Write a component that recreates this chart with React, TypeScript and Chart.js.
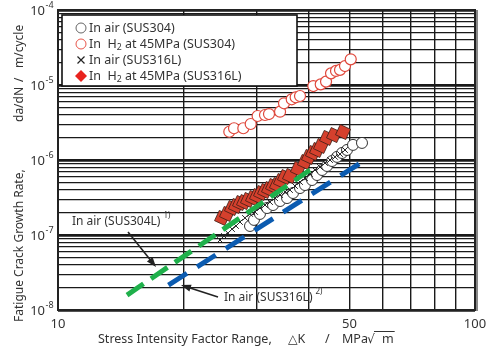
import React, { useEffect, useRef } from 'react';
import { Chart, registerables } from 'chart.js';
Chart.register(...registerables);

// ---- Axis grid / tick definitions ----
const X_GRID = [10, 20, 30, 40, 50, 60, 70, 80, 90, 100];
const X_LABELS = [10, 50, 100];
const Y_DECADES = [-8, -7, -6, -5, -4];
const Y_GRID: number[] = [];
for (let e = -8; e < -4; e++) for (let k = 1; k <= 9; k++) Y_GRID.push(k * Math.pow(10, e));
Y_GRID.push(1e-4);

// ---- Data ----
const air304X = [28.87, 29.51, 30.5, 31.71, 32.78, 34.08, 35.42, 36.61, 38.05, 39.11, 40.66, 41.8, 42.97, 44.17, 45.41, 46.68, 47.98, 49.32, 50.99, 53.58];
const air304Y = [1.32e-7, 1.59e-7, 1.91e-7, 2.29e-7, 2.51e-7, 2.84e-7, 3.11e-7, 3.63e-7, 4.23e-7, 4.64e-7, 5.41e-7, 6.31e-7, 7.36e-7, 8.32e-7, 9.7e-7, 1.1e-6, 1.24e-6, 1.36e-6, 1.59e-6, 1.69e-6];

const h2304X = [25.75, 26.43, 27.82, 28.98, 30.11, 31.36, 32.06, 34.08, 34.83, 36.35, 37.15, 38.05, 40.95, 42.66, 43.93, 45.16, 46.42, 47.46, 48.78, 50.35];
const h2304Y = [2.38e-6, 2.65e-6, 2.65e-6, 3.02e-6, 3.86e-6, 3.98e-6, 4.1e-6, 4.41e-6, 5.7e-6, 6.45e-6, 6.86e-6, 7.13e-6, 9.69e-6, 1.02e-5, 1.11e-5, 1.43e-5, 1.54e-5, 1.59e-5, 1.79e-5, 2.2e-5];

const air316X = [24.46, 25.01, 25.56, 26.14, 26.72, 27.32, 28.08, 28.87, 29.68, 30.5, 31.36, 32.24, 33.14, 34.08, 35.02, 36.0, 37.01, 38.05, 39.11, 40.21, 41.34, 42.49, 43.69, 44.91, 46.17, 47.46, 48.78];
const air316Y = [8.58e-8, 9.7e-8, 1.06e-7, 1.2e-7, 1.32e-7, 1.49e-7, 1.69e-7, 1.91e-7, 2.03e-7, 2.29e-7, 2.51e-7, 2.75e-7, 3.11e-7, 3.41e-7, 3.74e-7, 3.98e-7, 4.5e-7, 5.09e-7, 5.75e-7, 6.51e-7, 7.36e-7, 8.07e-7, 9.12e-7, 1.0e-6, 1.1e-6, 1.2e-6, 1.36e-6];

const h2316X = [24.74, 25.43, 26.14, 26.72, 27.32, 27.93, 28.55, 29.35, 30.01, 30.68, 31.36, 32.06, 32.78, 33.51, 34.25, 35.02, 36.0, 37.62, 39.11, 39.99, 40.88, 41.8, 42.73, 44.17, 45.91, 48.25];
const h2316Y = [1.69e-7, 1.91e-7, 2.29e-7, 2.44e-7, 2.67e-7, 2.75e-7, 2.93e-7, 3.11e-7, 3.31e-7, 3.63e-7, 3.86e-7, 4.1e-7, 4.5e-7, 4.64e-7, 5.25e-7, 5.93e-7, 6.12e-7, 7.59e-7, 9.4e-7, 1.1e-6, 1.24e-6, 1.36e-6, 1.54e-6, 1.97e-6, 2.15e-6, 2.36e-6];

const line304LX = [14.64, 40.2];
const line304LY = [1.58e-8, 7.36e-7];
const line316LX = [18.4, 55.4];
const line316LY = [2.15e-8, 1.06e-6];

// ---- Text ----
const LEGEND_ROWS = ['In air (SUS304)', 'In  H|2| at 45MPa (SUS304)', 'In air (SUS316L)', 'In  H|2| at 45MPa (SUS316L)'];
const ANN1 = { text: 'In air (SUS304L)', sup: '1)', at: [10.8, 1.49e-7], from: [14.72, 1.1e-7], to: [17.18, 3.75e-8] };
const ANN2 = { text: 'In air (SUS316L)', sup: '2)', at: [25.0, 1.445e-8], from: [24.19, 1.49e-8], to: [19.72, 2.15e-8] };
const X_TITLE = ['Stress Intensity Factor Range,', '△K', '/', 'MPa', '√', 'm'];
const Y_TITLE = ['Fatigue Crack Growth Rate,', 'da/dN', '/', 'm/cycle'];

const FONT = '"Noto Sans", "DejaVu Sans", sans-serif';
const TXT = '#333';

const zip = (xs: number[], ys: number[]) => xs.map((x, i) => ({ x, y: ys[i] }));
const isDecade = (v: number) => Math.abs(Math.log10(v) - Math.round(Math.log10(v))) < 1e-6;

function runs(ctx: CanvasRenderingContext2D, x: number, y: number, spec: string, size: number) {
  const parts = spec.split('|');
  let cx = x;
  parts.forEach((p, i) => {
    const sub = i % 2 === 1;
    ctx.font = `${sub ? size * 0.7 : size}px ${FONT}`;
    ctx.fillText(p, cx, y + (sub ? 3 : 0));
    cx += ctx.measureText(p).width;
  });
  return cx;
}

function arrow(ctx: CanvasRenderingContext2D, x1: number, y1: number, x2: number, y2: number) {
  const a = Math.atan2(y2 - y1, x2 - x1);
  const L = 10, W = 3.6;
  ctx.strokeStyle = '#222';
  ctx.fillStyle = '#222';
  ctx.lineWidth = 1.6;
  ctx.beginPath();
  ctx.moveTo(x1, y1);
  ctx.lineTo(x2 - Math.cos(a) * L * 0.8, y2 - Math.sin(a) * L * 0.8);
  ctx.stroke();
  ctx.beginPath();
  ctx.moveTo(x2, y2);
  ctx.lineTo(x2 - Math.cos(a) * L - Math.sin(a) * W, y2 - Math.sin(a) * L + Math.cos(a) * W);
  ctx.lineTo(x2 - Math.cos(a) * L + Math.sin(a) * W, y2 - Math.sin(a) * L - Math.cos(a) * W);
  ctx.closePath();
  ctx.fill();
}

const decorPlugin = {
  id: 'decor',
  afterDatasetsDraw(chart: any) {
    const ctx: CanvasRenderingContext2D = chart.ctx;
    const xs = chart.scales.x, ys = chart.scales.y;
    ctx.save();
    // legend box
    const lx = 62, ly = 15, lw = 235, lh = 71;
    ctx.fillStyle = '#fff';
    ctx.fillRect(lx, ly, lw, lh);
    ctx.strokeStyle = '#111';
    ctx.lineWidth = 1.6;
    ctx.strokeRect(lx, ly, lw, lh);
    const rowY = [28, 44, 60, 76];
    const mx = 81;
    // markers
    ctx.lineWidth = 1;
    ctx.strokeStyle = '#666';
    ctx.beginPath(); ctx.arc(mx, rowY[0], 5, 0, Math.PI * 2); ctx.stroke();
    ctx.strokeStyle = '#e8554a';
    ctx.beginPath(); ctx.arc(mx, rowY[1], 5, 0, Math.PI * 2); ctx.stroke();
    ctx.strokeStyle = '#222'; ctx.lineWidth = 1.2;
    ctx.beginPath();
    ctx.moveTo(mx - 3.5, rowY[2] - 3.5); ctx.lineTo(mx + 3.5, rowY[2] + 3.5);
    ctx.moveTo(mx + 3.5, rowY[2] - 3.5); ctx.lineTo(mx - 3.5, rowY[2] + 3.5);
    ctx.stroke();
    ctx.fillStyle = '#e8231e';
    ctx.beginPath();
    ctx.moveTo(mx, rowY[3] - 6); ctx.lineTo(mx + 6, rowY[3]); ctx.lineTo(mx, rowY[3] + 6); ctx.lineTo(mx - 6, rowY[3]);
    ctx.closePath(); ctx.fill();
    ctx.fillStyle = TXT;
    ctx.textBaseline = 'middle';
    ctx.textAlign = 'left';
    LEGEND_ROWS.forEach((r, i) => runs(ctx, 89, rowY[i], r, 12.5));

    // annotations
    for (const a of [ANN1, ANN2]) {
      ctx.fillStyle = TXT;
      const tx = xs.getPixelForValue(a.at[0]);
      const ty = ys.getPixelForValue(a.at[1]);
      ctx.font = `12px ${FONT}`;
      ctx.fillText(a.text, tx, ty);
      const w = ctx.measureText(a.text).width;
      ctx.font = `8px ${FONT}`;
      ctx.fillText(a.sup, tx + w + 3, ty - 6);
      arrow(ctx, xs.getPixelForValue(a.from[0]), ys.getPixelForValue(a.from[1]), xs.getPixelForValue(a.to[0]), ys.getPixelForValue(a.to[1]));
    }
    ctx.restore();
  },
  afterDraw(chart: any) {
    const ctx: CanvasRenderingContext2D = chart.ctx;
    const { left, right, top, bottom } = chart.chartArea;
    const xs = chart.scales.x, ys = chart.scales.y;
    ctx.save();
    // frame
    ctx.strokeStyle = '#222';
    ctx.lineWidth = 2;
    ctx.strokeRect(left, top, right - left, bottom - top);
    ctx.strokeStyle = '#888';
    ctx.lineWidth = 2;
    ctx.beginPath(); ctx.moveTo(right + 2, top); ctx.lineTo(right + 2, bottom + 1); ctx.stroke();

    ctx.fillStyle = TXT;
    // y tick labels
    ctx.textBaseline = 'middle';
    for (const e of Y_DECADES) {
      const py = ys.getPixelForValue(Math.pow(10, e));
      ctx.font = `13px ${FONT}`;
      ctx.textAlign = 'right';
      ctx.fillText('10', 45, py + 1);
      ctx.font = `9px ${FONT}`;
      ctx.textAlign = 'left';
      ctx.fillText(String(e), 45.5, py - 5);
    }
    // x tick labels
    ctx.textAlign = 'center';
    ctx.font = `13px ${FONT}`;
    for (const v of X_LABELS) ctx.fillText(String(v), xs.getPixelForValue(v), bottom + 14);

    // x title
    ctx.textAlign = 'left';
    ctx.font = `12.5px ${FONT}`;
    const ty = 339;
    const xpos = [98, 288, 325, 342, 367, 382];
    X_TITLE.forEach((t, i) => ctx.fillText(t, xpos[i], ty));
    const mw = ctx.measureText('m').width;
    ctx.strokeStyle = TXT; ctx.lineWidth = 1;
    ctx.beginPath(); ctx.moveTo(374, 331.5); ctx.lineTo(382 + mw + 1, 331.5); ctx.stroke();

    // y title
    ctx.save();
    ctx.translate(20, 322);
    ctx.rotate(-Math.PI / 2);
    ctx.textAlign = 'left';
    ctx.font = `12px ${FONT}`;
    const ypos = [0, 200, 240, 254];
    Y_TITLE.forEach((t, i) => ctx.fillText(t, ypos[i], 0));
    ctx.restore();
    ctx.restore();
  },
};

export default function App() {
  const ref = useRef<HTMLCanvasElement>(null);
  useEffect(() => {
    const chart = new Chart(ref.current!, {
      type: 'scatter',
      data: {
        datasets: [
          {
            label: 'In air (SUS304L)',
            data: zip(line304LX, line304LY),
            showLine: true, pointRadius: 0, borderColor: '#1fb04b', borderWidth: 5,
            borderDash: [20, 9], borderCapStyle: 'butt', order: 0,
          } as any,
          {
            label: 'In air (SUS316L)',
            data: zip(line316LX, line316LY),
            showLine: true, pointRadius: 0, borderColor: '#0b5bb0', borderWidth: 5,
            borderDash: [22, 12], borderCapStyle: 'butt', order: 0,
          },
          {
            label: 'In H2 at 45MPa (SUS316L)',
            data: zip(h2316X, h2316Y),
            pointStyle: 'rect', rotation: 25, pointRadius: 8,
            backgroundColor: '#d5402d', borderColor: '#3b1d14', borderWidth: 0.8, order: 1,
          },
          {
            label: 'In air (SUS316L)',
            data: zip(air316X, air316Y),
            pointStyle: 'crossRot', pointRadius: 4, borderColor: '#222', borderWidth: 1, order: 2,
          },
          {
            label: 'In air (SUS304)',
            data: zip(air304X, air304Y),
            pointStyle: 'circle', pointRadius: 5.5, borderColor: '#333', backgroundColor: '#fff', borderWidth: 1, order: 3,
          },
          {
            label: 'In H2 at 45MPa (SUS304)',
            data: zip(h2304X, h2304Y),
            pointStyle: 'circle', pointRadius: 5.5, borderColor: '#e0483c', backgroundColor: '#fff', borderWidth: 1.2, order: 4,
          },
        ],
      },
      options: {
        animation: false,
        responsive: false,
        devicePixelRatio: 1,
        layout: { padding: { left: 0, right: 21, top: 10, bottom: 0 } },
        plugins: { legend: { display: false }, tooltip: { enabled: false } },
        scales: {
          x: {
            type: 'logarithmic', min: 10, max: 100,
            afterBuildTicks: (s: any) => { s.ticks = X_GRID.map((v) => ({ value: v })); },
            afterFit: (s: any) => { s.height = 37; },
            ticks: { display: false },
            border: { display: false },
            grid: { color: '#1a1a1a', lineWidth: 1.4, drawTicks: false },
          },
          y: {
            type: 'logarithmic', min: 1e-8, max: 1e-4,
            afterBuildTicks: (s: any) => { s.ticks = Y_GRID.map((v) => ({ value: v })); },
            afterFit: (s: any) => { s.width = 58; },
            ticks: { display: false },
            border: { display: false },
            grid: {
              color: '#1a1a1a', drawTicks: false,
              lineWidth: (c: any) => (c.tick && isDecade(c.tick.value) ? 2.8 : 1.3),
            },
          },
        },
      },
      plugins: [decorPlugin],
    });
    return () => chart.destroy();
  }, []);
  return (
    <div style={{ position: 'fixed', left: 0, top: 0, width: 496, height: 347, background: '#fff' }}>
      <canvas ref={ref} width={496} height={347} style={{ display: 'block', width: 496, height: 347 }} />
    </div>
  );
}
